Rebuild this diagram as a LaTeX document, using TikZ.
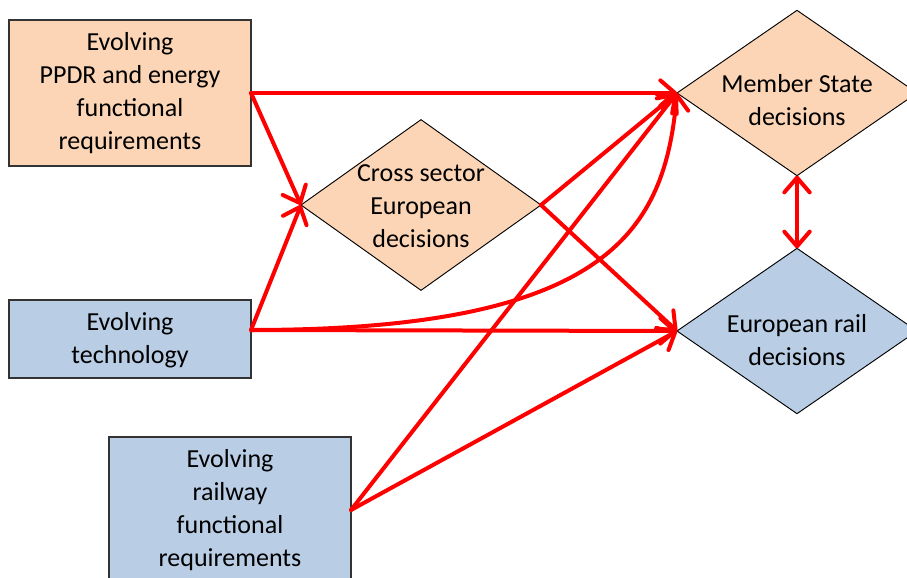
\documentclass[tikz,border=0pt]{standalone}
\usepackage{fontspec}
\setmainfont{Carlito}
\usetikzlibrary{shapes.geometric,arrows.meta}
\definecolor{peach}{HTML}{FBD5B5}
\definecolor{lblue}{HTML}{B9CDE5}
\definecolor{arr}{HTML}{FF0000}
\begin{document}
\begin{tikzpicture}[x=0.75pt,y=-0.75pt,
  boxA/.style={draw=black!80,line width=0.8pt,rectangle,inner sep=0pt,outer sep=0pt,minimum width=181.5pt},
  dia/.style={draw=black,line width=0.7pt,diamond,inner sep=0pt,outer sep=0pt,minimum width=180pt},
  txt/.style={align=center,font=\fontsize{19.5}{24.75}\selectfont,inner sep=0pt},
  conn/.style={draw=arr,line width=3pt,line cap=round,line join=round,-{Straight Barb[length=11pt,width=19pt,line cap=round,line join=round]}},
  conn2/.style={draw=arr,line width=3pt,line cap=round,{Straight Barb[length=11pt,width=19pt,line cap=round,line join=round]}-{Straight Barb[length=11pt,width=19pt,line cap=round,line join=round]}}]
\useasboundingbox (0,0) rectangle (907,578);
\clip (0,0) rectangle (907,578);
\node[boxA,fill=peach,minimum height=109.5pt] (ppdr) at (130,93) {};
\node[txt] (ppdrt) at (130,93) {Evolving\\PPDR and energy\\functional\\requirements};
\node[boxA,fill=lblue,minimum height=58.5pt] (tech) at (130,339) {};
\node[txt] (techt) at (130,340) {Evolving\\technology};
\coordinate (techout) at ([yshift=6.75pt]tech.east);
\node[boxA,fill=lblue,minimum height=109.5pt] (rail) at (230,510) {};
\node[txt] (railt) at (230,510) {Evolving\\railway\\functional\\requirements};
\node[dia,fill=peach,minimum height=128pt] (cross) at (421,205) {};
\node[txt] (crosst) at (421,206) {Cross sector\\European\\decisions};
\node[dia,fill=peach,minimum height=124pt] (ms) at (797,93) {};
\node[txt] (mst) at (797,100) {Member State\\decisions};
\node[dia,fill=lblue,minimum height=124pt] (er) at (797,331) {};
\node[txt] (ert) at (797,340) {European rail\\decisions};
\path[conn] (ppdr.east) -- (ms.west);
\path[conn] (ppdr.east) -- (cross.west);
\path[conn] (techout) -- (cross.west);
\path[conn] (techout) -- (er.west);
\path[conn] (techout) .. controls (610,330) and (665,230) .. (ms.west);
\path[conn] (cross.east) -- (ms.west);
\path[conn] (cross.east) -- (er.west);
\path[conn] (rail.east) -- (ms.west);
\path[conn] (rail.east) -- (er.west);
\path[conn2] (ms.south) -- (er.north);
\end{tikzpicture}
\end{document}
